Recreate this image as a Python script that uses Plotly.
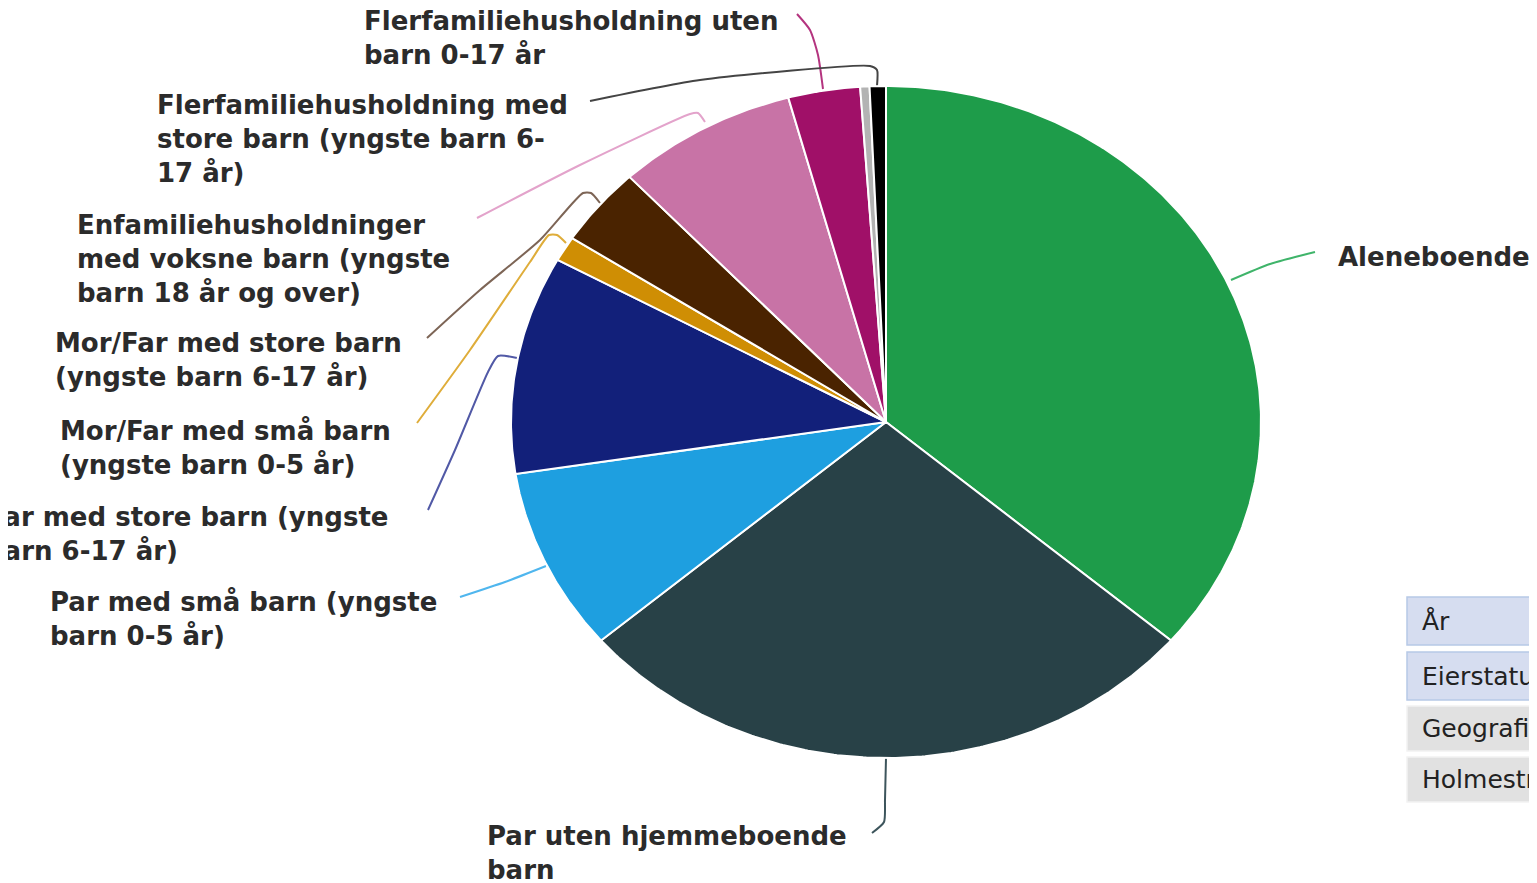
import numpy as np
import plotly.graph_objects as go

# slices, clockwise from 12 o'clock
CATEGORIES = [
    "Aleneboende",
    "Par uten hjemmeboende barn",
    "Par med små barn (yngste barn 0-5 år)",
    "Par med store barn (yngste barn 6-17 år)",
    "Mor/Far med små barn (yngste barn 0-5 år)",
    "Mor/Far med store barn (yngste barn 6-17 år)",
    "Enfamiliehusholdninger med voksne barn (yngste barn 18 år og over)",
    "Flerfamiliehusholdning uten barn 0-17 år",
    "Flerfamiliehusholdning med små barn (yngste barn 0-5 år)",
    "Flerfamiliehusholdning med store barn (yngste barn 6-17 år)",
]
SHARES = [36.3, 27.5, 8.8, 10.5, 1.2, 3.8, 7.8, 3.1, 0.4, 0.7]

# label text as wrapped in the picture (None = no label shown)
LABEL_TEXT = [
    "Aleneboende",
    "Par uten hjemmeboende<br>barn",
    "Par med små barn (yngste<br>barn 0-5 år)",
    "Par med store barn (yngste<br>barn 6-17 år)",
    "Mor/Far med små barn<br>(yngste barn 0-5 år)",
    "Mor/Far med store barn<br>(yngste barn 6-17 år)",
    "Enfamiliehusholdninger<br>med voksne barn (yngste<br>barn 18 år og over)",
    "Flerfamiliehusholdning uten<br>barn 0-17 år",
    None,
    "Flerfamiliehusholdning med<br>store barn (yngste barn 6-<br>17 år)",
]

TABLE_ROWS = ["År", "Eierstatus", "Geografi", "Holmestrand"]

# styling
COLORS = ["#1e9c4a", "#284147", "#1e9fe0", "#12207a", "#cf8e04",
          "#4a2300", "#c873a6", "#a01068", "#b3b3b3", "#000000"]
LINE_COLORS = ["#3fb46a", "#3d555c", "#4fb6ee", "#5159a6", "#dfad3a",
               "#7d6556", "#e3a3cb", "#b4347f", None, "#444444"]

W, H = 1537, 883
OFF = 8  # page body margin, shift the axes so page pixels line up
CX, CY = 886, 422
RX, RY = 375, 336

# label anchor (x, y, xanchor) in page pixels
LABEL_POS = [
    (1336, 257, "left"),
    (485, 853, "left"),
    (48, 618, "left"),
    (390, 534, "right"),
    (58, 447, "left"),
    (53, 360, "left"),
    (75, 259, "left"),
    (362, 38, "left"),
    None,
    (155, 139, "left"),
]

# leader line routes in page pixels
LEADERS = [
    [(1231, 280), (1270, 264), (1315, 252)],
    [(886, 758), (885, 800), (884, 822), (872, 833)],
    [(546, 566), (505, 582), (460, 597)],
    [(517, 358), (498, 356), (488, 372), (455, 450), (428, 510)],
    [(566, 243), (557, 235), (549, 235), (530, 262), (470, 350), (417, 423)],
    [(600, 203), (591, 193), (583, 193), (540, 240), (480, 290), (427, 338)],
    [(705, 122), (698, 113), (690, 114), (580, 165), (477, 218)],
    [(823, 89), (818, 55), (810, 30), (797, 14)],
    None,
    [(877, 86), (877, 70), (870, 66), (700, 80), (590, 101)],
]

TABLE_FILL = ["#d6ddf0", "#d6ddf0", "#e1e1e1", "#e1e1e1"]
TABLE_LINE = ["#b7c9e6", "#b7c9e6", "#f2f2f2", "#f2f2f2"]
TABLE_Y = [(597, 645), (652, 700), (706, 751), (757, 802)]


def slice_path(a0, a1):
    n = max(int((a1 - a0) / 0.5) + 2, 3)
    t = np.radians(np.linspace(a0, a1, n))
    xs = np.concatenate([[CX], CX + RX * np.sin(t), [CX]])
    ys = np.concatenate([[CY], CY - RY * np.cos(t), [CY]])
    return xs, ys


fig = go.Figure()

# leader lines under the slices
for pts, col in zip(LEADERS, LINE_COLORS):
    if pts is None:
        continue
    fig.add_trace(go.Scatter(
        x=[p[0] for p in pts], y=[p[1] for p in pts], mode="lines",
        line=dict(color=col, width=2, shape="spline", smoothing=0.6),
        hoverinfo="skip",
    ))

total = sum(SHARES)
start = 0.0
for cat, val, col in zip(CATEGORIES, SHARES, COLORS):
    end = start + val / total * 360
    xs, ys = slice_path(start, end)
    fig.add_trace(go.Scatter(
        x=xs, y=ys, mode="lines", fill="toself", fillcolor=col,
        line=dict(color="white", width=2), name=cat,
        hoveron="fills", hoverinfo="name",
    ))
    start = end

label_font = dict(family="DejaVu Sans", size=26, color="#2b2b2b", weight="bold")
for text, pos in zip(LABEL_TEXT, LABEL_POS):
    if text is None:
        continue
    fig.add_annotation(
        x=pos[0], y=pos[1], xref="x", yref="y", text=text, showarrow=False,
        xanchor=pos[2], yanchor="middle", align="left", font=label_font,
    )

# filter table peeking in at the right edge
for row, fill, edge, (y0, y1) in zip(TABLE_ROWS, TABLE_FILL, TABLE_LINE, TABLE_Y):
    fig.add_shape(type="rect", xref="x", yref="y", x0=1407, x1=1560, y0=y0, y1=y1,
                  fillcolor=fill, line=dict(color=edge, width=1.5), layer="below")
    fig.add_annotation(
        x=1420, y=(y0 + y1) / 2, xref="x", yref="y", text=row, showarrow=False,
        xanchor="left", yanchor="middle",
        font=dict(family="DejaVu Sans", size=25, color="#222222"),
    )

fig.update_layout(
    width=W, height=H, margin=dict(l=0, r=0, t=0, b=0),
    paper_bgcolor="white", plot_bgcolor="white", showlegend=False,
    xaxis=dict(range=[OFF, W + OFF], visible=False, fixedrange=True),
    yaxis=dict(range=[H + OFF, OFF], visible=False, fixedrange=True),
)

fig.write_html("out.html")
